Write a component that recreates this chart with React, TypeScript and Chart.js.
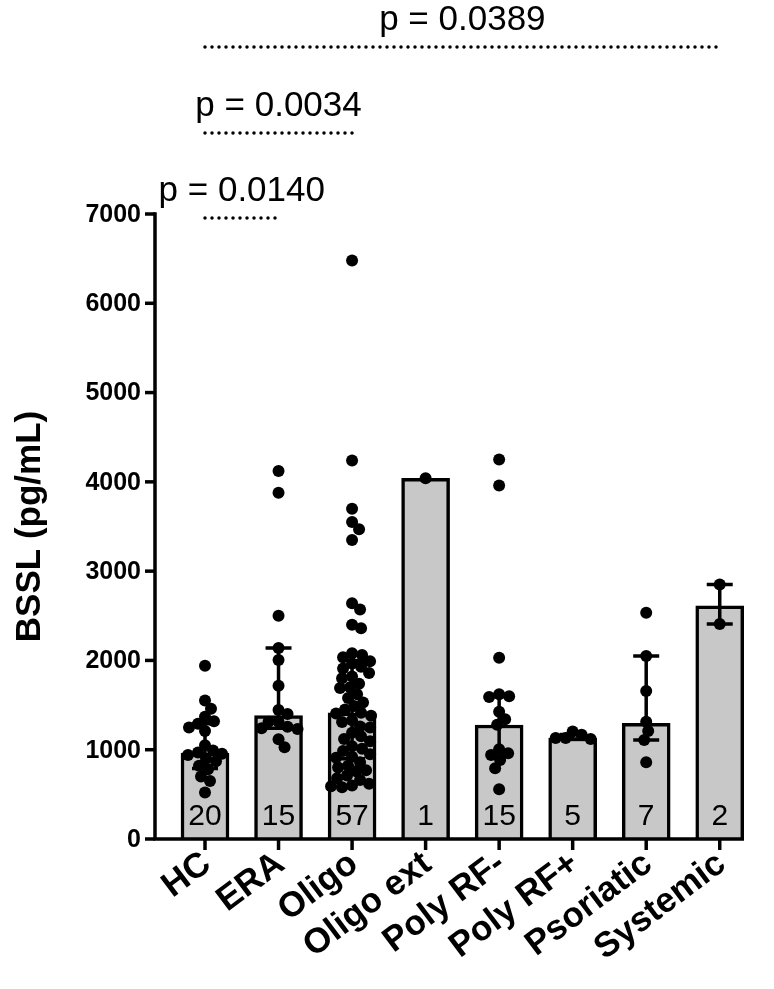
import React, { useEffect, useRef } from 'react';
import { Chart, registerables } from 'chart.js';

Chart.register(...registerables);

const WIDTH = 774;
const HEIGHT = 989;
const FONT = '"Liberation Sans", Arial, sans-serif';

// Groups along the x axis
const categories = ['HC', 'ERA', 'Oligo', 'Oligo ext', 'Poly RF-', 'Poly RF+', 'Psoriatic', 'Systemic'];

// Bar height = group median, whiskers = interquartile range
const medians = [963, 1381, 1414, 4040, 1277, 1131, 1296, 2612];
const q1 = [790, 1240, 900, null, 963, 1120, 1109, 2408];
const q3 = [1290, 2139, 2000, null, 1612, 1170, 2049, 2851];

// Individual BSSL measurements (pg/mL) per group
const hcValues = [1940, 1550, 1460, 1370, 1320, 1290, 1250, 1210, 1050, 990, 970, 955, 940, 900, 870, 820, 780, 700, 650, 520];
const eraValues = [4121, 3878, 2501, 2140, 2004, 1717, 1445, 1400, 1314, 1314, 1258, 1240, 1232, 1116, 1027];
const oligoValues = [
  6480, 4240, 3700, 3550, 3470, 3350, 2640, 2570, 2400, 2360,
  2080, 2060, 2035, 1990, 1965, 1930, 1910, 1860, 1820, 1800,
  1740, 1700, 1690, 1620, 1580, 1530, 1490, 1450, 1414, 1405,
  1380, 1330, 1310, 1260, 1250, 1190, 1150, 1120, 1095, 1040,
  1010, 985, 950, 920, 910, 860, 820, 800, 770, 760,
  710, 680, 660, 620, 600, 590, 580,
];
const oligoExtValues = [4040];
const polyNegValues = [4250, 3960, 2030, 1620, 1600, 1590, 1426, 1340, 1280, 1004, 960, 940, 885, 792, 557];
const polyPosValues = [1205, 1168, 1131, 1131, 1119];
const psoriaticValues = [2534, 2049, 1657, 1314, 1209, 1109, 859];
const systemicValues = [2851, 2408];

const groupValues = [hcValues, eraValues, oligoValues, oligoExtValues, polyNegValues, polyPosValues, psoriaticValues, systemicValues];

// Y axis
const yTicks = [0, 1000, 2000, 3000, 4000, 5000, 6000, 7000];
const yMax = 7000;

// Pairwise comparisons shown above the plot
const comparisonFrom = [0, 0, 0];
const comparisonTo = [1, 2, 7];
const comparisonLabels = ['p = 0.0140', 'p = 0.0034', 'p = 0.0389'];

// Plot frame
const PAD = { left: 155, right: 30, top: 214, bottom: 150 };
const X_MIN = -0.68;
const X_MAX = 7.33;
const BRACKET_Y = [218, 133, 47];
const POINT_R = 6;
const LABEL_ANGLE = 37;

// Spread the dots of each group sideways so they do not pile up (simple beeswarm)
function swarm(values: number[], center: number) {
  const plotW = WIDTH - PAD.left - PAD.right;
  const plotH = HEIGHT - PAD.top - PAD.bottom;
  const pxPerX = plotW / (X_MAX - X_MIN);
  const pxPerY = plotH / yMax;
  const minDist = 9.5;
  const placed: { dx: number; py: number }[] = [];
  const out: { x: number; y: number }[] = [];
  const order = values.map((v, i) => i).sort((a, b) => values[b] - values[a]);
  for (const i of order) {
    const py = values[i] * pxPerY;
    let chosen = 0;
    for (let k = 0; k < 80; k++) {
      const step = Math.ceil(k / 2);
      const dx = k % 2 === 1 ? step : -step;
      const ok = placed.every((p) => {
        const ddx = p.dx - dx;
        const ddy = p.py - py;
        return ddx * ddx + ddy * ddy >= minDist * minDist;
      });
      if (ok) {
        chosen = dx;
        break;
      }
    }
    placed.push({ dx: chosen, py });
    out.push({ x: center + chosen / pxPerX, y: values[i] });
  }
  return out;
}

const decorations = {
  id: 'decorations',
  afterDatasetDraw(chart: any, args: any) {
    if (args.index !== 0) return;
    const { ctx } = chart;
    const x = chart.scales.x;
    const y = chart.scales.y;
    ctx.save();
    ctx.strokeStyle = '#000';
    ctx.lineWidth = 3.5;
    categories.forEach((_, i) => {
      const lo = q1[i];
      const hi = q3[i];
      if (lo == null || hi == null) return;
      const cx = x.getPixelForValue(i);
      const yl = y.getPixelForValue(lo);
      const yh = y.getPixelForValue(hi);
      ctx.beginPath();
      ctx.moveTo(cx, yl);
      ctx.lineTo(cx, yh);
      ctx.moveTo(cx - 13, yl);
      ctx.lineTo(cx + 13, yl);
      ctx.moveTo(cx - 13, yh);
      ctx.lineTo(cx + 13, yh);
      ctx.stroke();
    });
    ctx.restore();
  },
  afterDraw(chart: any) {
    const { ctx, chartArea } = chart;
    const x = chart.scales.x;
    const y = chart.scales.y;
    const y0 = y.getPixelForValue(0);
    const yTop = y.getPixelForValue(yMax);
    ctx.save();
    ctx.strokeStyle = '#000';
    ctx.fillStyle = '#000';
    ctx.lineWidth = 3.5;

    // axes lines
    ctx.beginPath();
    ctx.moveTo(chartArea.left, yTop - 1.75);
    ctx.lineTo(chartArea.left, y0);
    ctx.moveTo(chartArea.left - 1.75, y0);
    ctx.lineTo(chartArea.right, y0);
    ctx.stroke();

    // y ticks and labels
    ctx.font = `bold 25px ${FONT}`;
    ctx.textAlign = 'right';
    ctx.textBaseline = 'middle';
    yTicks.forEach((t) => {
      const py = y.getPixelForValue(t);
      ctx.beginPath();
      ctx.moveTo(chartArea.left - 10, py);
      ctx.lineTo(chartArea.left, py);
      ctx.stroke();
      ctx.fillText(String(t), chartArea.left - 14, py + 1);
    });

    // x ticks and rotated labels
    const angle = (LABEL_ANGLE * Math.PI) / 180;
    categories.forEach((c, i) => {
      const px = x.getPixelForValue(i);
      ctx.beginPath();
      ctx.moveTo(px, y0);
      ctx.lineTo(px, y0 + 11);
      ctx.stroke();
      ctx.save();
      ctx.translate(px + 2, y0 + 21);
      ctx.rotate(-angle);
      ctx.font = `bold 35px ${FONT}`;
      ctx.textAlign = 'right';
      ctx.textBaseline = 'middle';
      ctx.fillText(c, 0, 0);
      ctx.restore();
    });

    // group sizes inside the bars
    ctx.font = `30px ${FONT}`;
    ctx.textAlign = 'center';
    ctx.textBaseline = 'alphabetic';
    groupValues.forEach((vals, i) => {
      ctx.fillText(String(vals.length), x.getPixelForValue(i), y0 - 14);
    });

    // y axis title
    ctx.save();
    ctx.translate(30, (yTop + y0) / 2);
    ctx.rotate(-Math.PI / 2);
    ctx.font = `bold 35px ${FONT}`;
    ctx.textAlign = 'center';
    ctx.textBaseline = 'middle';
    ctx.fillText('BSSL (pg/mL)', 0, 0);
    ctx.restore();

    // comparison brackets
    comparisonLabels.forEach((label, k) => {
      const xa = x.getPixelForValue(comparisonFrom[k]);
      const xb = x.getPixelForValue(comparisonTo[k]);
      const by = BRACKET_Y[k];
      ctx.save();
      ctx.lineWidth = 3.5;
      ctx.lineCap = 'round';
      ctx.setLineDash([0, 7]);
      ctx.beginPath();
      ctx.moveTo(xa, by);
      ctx.lineTo(xb, by);
      ctx.stroke();
      ctx.restore();
      ctx.font = `35px ${FONT}`;
      ctx.textAlign = 'center';
      ctx.textBaseline = 'alphabetic';
      ctx.fillText(label, (xa + xb) / 2, by - 17);
    });
    ctx.restore();
  },
};

export default function App() {
  const canvasRef = useRef<HTMLCanvasElement | null>(null);

  useEffect(() => {
    const canvas = canvasRef.current;
    if (!canvas) return;
    const barData = medians.map((m, i) => ({ x: i, y: m }));
    const dots = groupValues.flatMap((vals, i) => swarm(vals, i));
    const chart = new Chart(canvas, {
      type: 'bar',
      data: {
        datasets: [
          {
            type: 'bar',
            data: barData as any,
            backgroundColor: '#c8c8c8',
            borderColor: '#000',
            borderWidth: { top: 3.5, left: 3.5, right: 3.5, bottom: 0 } as any,
            borderSkipped: false,
            barThickness: 48,
            order: 2,
          } as any,
          {
            type: 'scatter',
            data: dots as any,
            backgroundColor: '#000',
            borderWidth: 0,
            pointRadius: POINT_R,
            pointHoverRadius: POINT_R,
            clip: false,
            order: 1,
          } as any,
        ],
      },
      options: {
        responsive: false,
        animation: false,
        devicePixelRatio: 1,
        layout: { padding: PAD },
        plugins: { legend: { display: false }, tooltip: { enabled: false } },
        scales: {
          x: { type: 'linear', min: X_MIN, max: X_MAX, display: false, offset: false },
          y: { type: 'linear', min: 0, max: yMax, display: false },
        },
      },
      plugins: [decorations],
    });
    return () => chart.destroy();
  }, []);

  return (
    <div style={{ position: 'absolute', left: 0, top: 0, width: WIDTH, height: HEIGHT, background: '#fff' }}>
      <canvas ref={canvasRef} width={WIDTH} height={HEIGHT} />
    </div>
  );
}
